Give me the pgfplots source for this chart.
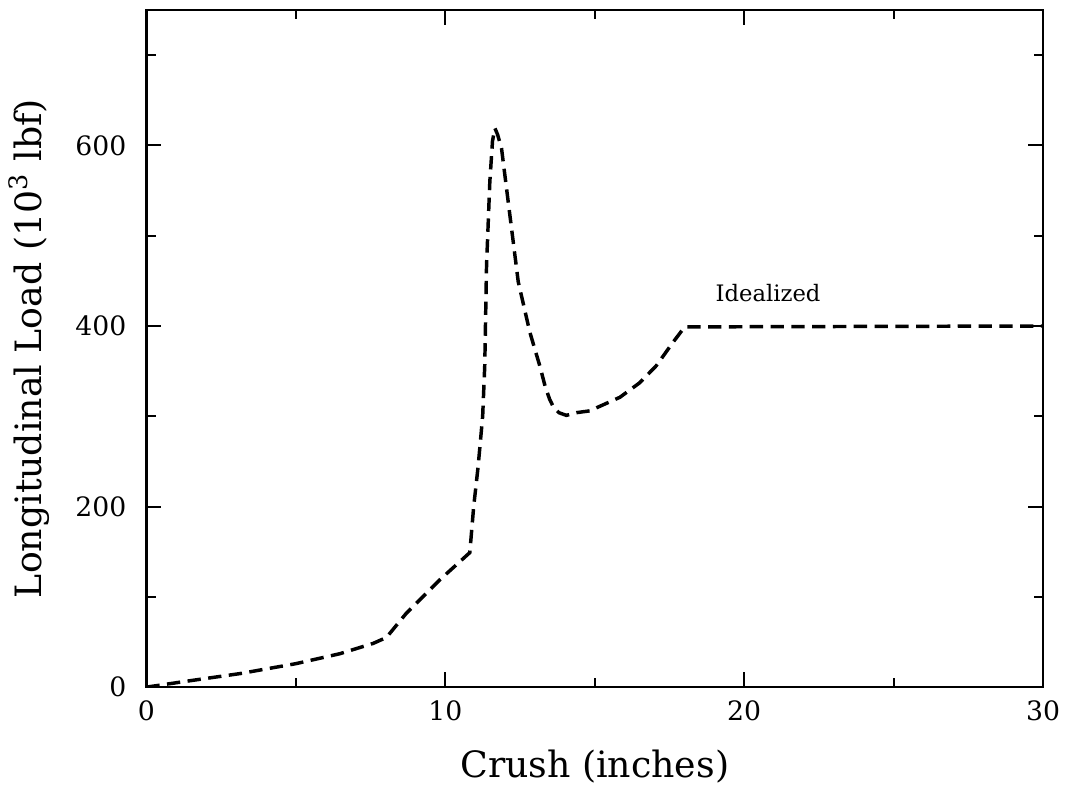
\documentclass[border=0pt]{standalone}
\usepackage{fontspec}
\setmainfont{DejaVu Serif}
\usepackage{pgfplots}
\pgfplotsset{compat=1.18}

\begin{document}
\begin{tikzpicture}
  \path[use as bounding box] (-54.9pt,-39pt) rectangle (344.8pt,257.65pt);
  \begin{axis}[
    scale only axis,
    width=336.2pt, height=253.9pt,
    xmin=0, xmax=30, ymin=0, ymax=750,
    xtick={0,10,20,30}, minor xtick={5,15,25},
    ytick={0,200,400,600}, minor ytick={100,300,500,700},
    tick pos=both, tick align=inside,
    major tick length=5.6pt, minor tick length=3.5pt,
    every tick/.style={black, line width=0.8pt},
    axis line style={line width=1pt},
    /pgf/number format/assume math mode=true,
    ticklabel style={font=\fontsize{10}{12}\selectfont},
    yticklabel style={xshift=-4pt},
    xticklabel style={yshift=-1.5pt},
    label style={font=\fontsize{13.6}{16}\selectfont},
    xlabel={Crush (inches)},
    ylabel={Longitudinal Load (10\textsuperscript{3} lbf)},
    xlabel style={at={(axis description cs:0.5,-0.118)}, anchor=center},
    ylabel style={at={(axis description cs:-0.131,0.5)}, anchor=center},
  ]
    % idealized crush curve
    \addplot[black, line width=1.3pt, dash pattern=on 5pt off 2.8pt] coordinates {
      (0,0) (1.23,6) (3.13,15) (5,26) (6.47,37) (7.59,48.5) (8.03,55)
      (8.70,82) (9.82,119) (10.82,149) (10.95,200) (11.10,245) (11.25,300)
      (11.32,356) (11.38,467) (11.49,560) (11.58,605) (11.66,619) (11.75,612)
      (11.88,597) (12.16,523) (12.44,449) (12.83,393) (13.16,356) (13.35,332)
      (13.49,319) (13.62,310) (13.80,304) (14.05,301) (14.39,304) (14.83,306)
      (15.84,321) (16.50,337) (17.06,356) (17.62,382) (18.01,399) (30,400)
    };
    \node[font=\fontsize{8.5}{10}\selectfont] at (axis cs:20.8,437) {Idealized};
  \end{axis}
\end{tikzpicture}
\end{document}
